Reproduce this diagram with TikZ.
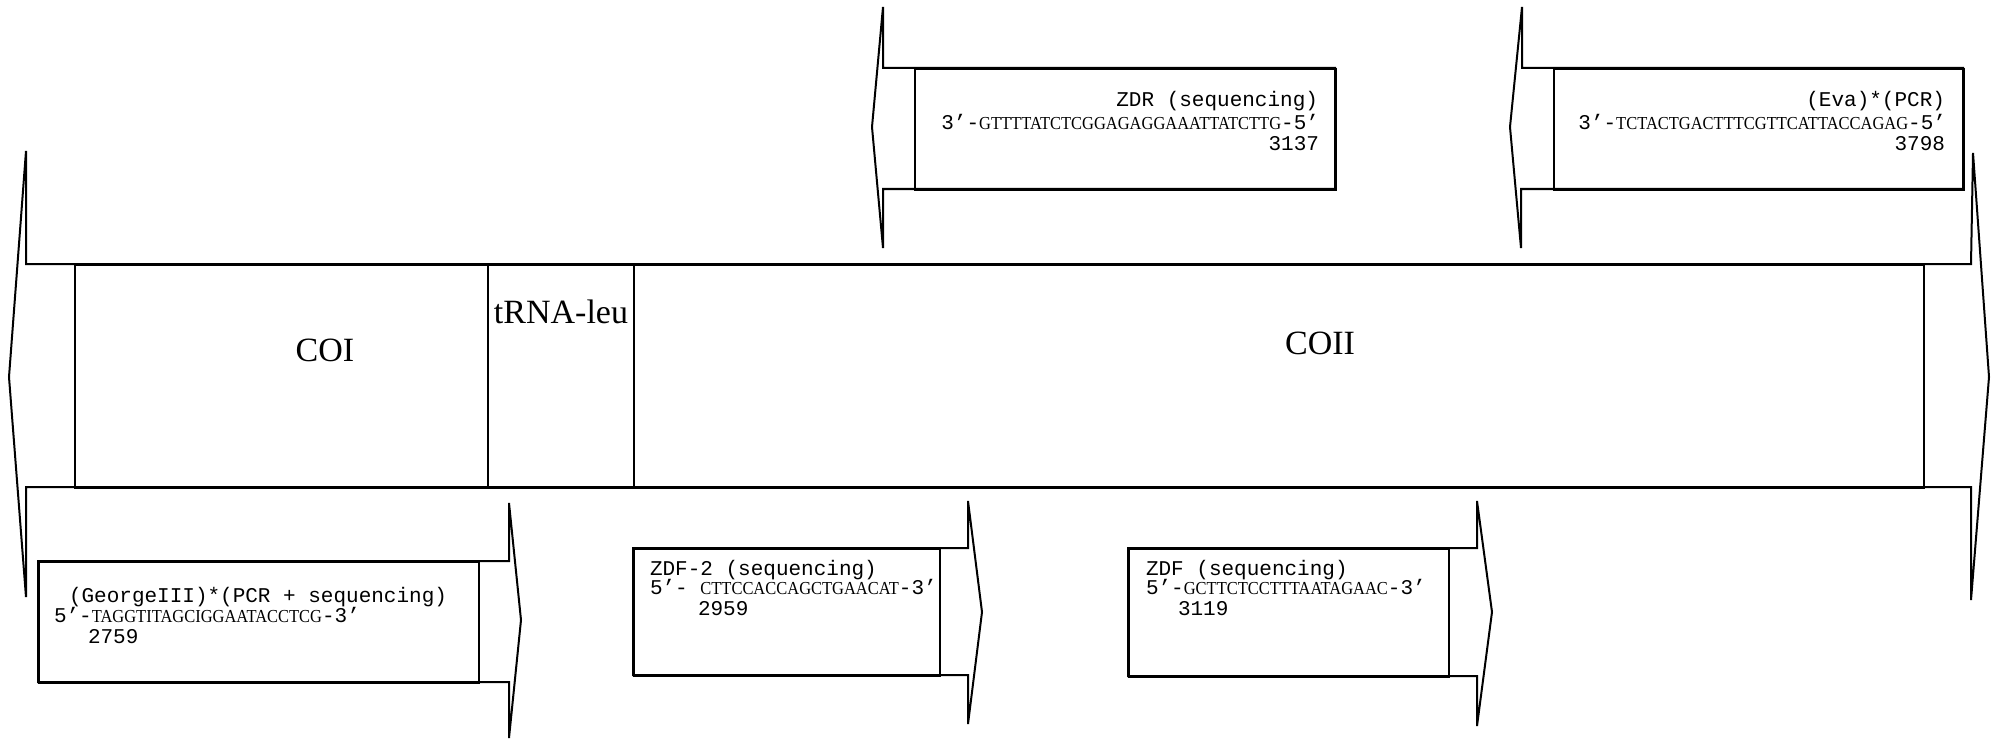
\documentclass[tikz,border=0pt]{standalone}
\usepackage{fontspec}
\setmainfont{Liberation Serif}
\setmonofont{Liberation Mono}
\newfontfamily\seqfont[FakeStretch=0.9]{Liberation Serif}
\newcommand\sq[1]{{\seqfont\fontsize{18.3}{20}\selectfont #1}}
\begin{document}
\begin{tikzpicture}[x=1pt,y=-1pt,line width=2pt,line join=miter,
  lbl/.style={font=\ttfamily\fontsize{21}{23}\selectfont,inner sep=0pt},
  gene/.style={font=\fontsize{34}{38}\selectfont,inner sep=0pt},
  seg/.style={draw,rectangle,inner sep=0pt,anchor=north west},
  outline/.style={draw}]
\useasboundingbox (0,0) rectangle (1998,741);
% main double arrow
\draw[outline] (26,264) -- (26,151) -- (9,377) -- (26,597) -- (26,487) -- (1971,487)
  -- (1971,600) -- (1989,377) -- (1973,153) -- (1971,264) -- cycle;
% gene segments
\node[seg,minimum width=413pt,minimum height=223pt] (coi) at (74,264) {};
\node[seg,minimum width=146pt,minimum height=223pt] (trna) at (487,264) {};
\node[seg,minimum width=1290pt,minimum height=223pt] (coii) at (633,264) {};
\node[gene] (coilbl) at (325,350) {COI};
\node[gene,anchor=base] (trnalbl) at (561,323) {tRNA-leu};
\node[gene] (coiilbl) at (1320,343) {COII};
% ZDR primer (reverse)
\draw[outline] (883,68) -- (883,7) -- (872,127) -- (883,248) -- (883,189) -- (1335,189) -- (1335,68) -- cycle;
\node[seg,minimum width=421pt,minimum height=121pt] (zdrbox) at (914,68) {};
\node[lbl,anchor=base east] (zdr1) at (1319,107) {ZDR (sequencing)};
\node[lbl,anchor=base east] (zdr2) at (1320,130) {3’-\sq{GTTTTATCTCGGAGAGGAAATTATCTTG}-5’};
\node[lbl,anchor=base east] (zdr3) at (1320,151) {3137};
% Eva primer (reverse)
\draw[outline] (1522,68) -- (1522,7) -- (1510,127) -- (1521,248) -- (1521,189) -- (1963,189) -- (1963,68) -- cycle;
\node[seg,minimum width=410pt,minimum height=121pt] (evabox) at (1553,68) {};
\node[lbl,anchor=base east] (eva1) at (1946,107) {(Eva)*(PCR)};
\node[lbl,anchor=base east] (eva2) at (1947,130) {3’-\sq{TCTACTGACTTTCGTTCATTACCAGAG}-5’};
\node[lbl,anchor=base east] (eva3) at (1946,151) {3798};
% GeorgeIII primer (forward)
\draw[outline] (38,561) -- (509,561) -- (509,503) -- (521,620) -- (509,738) -- (509,682) -- (38,682) -- cycle;
\node[seg,minimum width=440pt,minimum height=121pt] (geobox) at (38,561) {};
\node[lbl,anchor=base west] (geo1) at (68,602) {(GeorgeIII)*(PCR + sequencing)};
\node[lbl,anchor=base west] (geo2) at (53,622) {5’-\sq{TAGGTITAGCIGGAATACCTCG}-3’};
\node[lbl,anchor=base west] (geo3) at (87,643) {2759};
% ZDF-2 primer (forward)
\draw[outline] (633,548) -- (968,548) -- (968,501) -- (982,612) -- (968,724) -- (968,675) -- (633,675) -- cycle;
\node[seg,minimum width=306pt,minimum height=127pt] (zdf2box) at (633,548) {};
\node[lbl,anchor=base west] (zdfb1) at (649,575) {ZDF-2 (sequencing)};
\node[lbl,anchor=base west] (zdfb2) at (649,594) {5’- \sq{CTTCCACCAGCTGAACAT}-3’};
\node[lbl,anchor=base west] (zdfb3) at (697,615) {2959};
% ZDF primer (forward)
\draw[outline] (1128,548) -- (1477,548) -- (1477,501) -- (1492,612) -- (1477,726) -- (1477,676) -- (1128,676) -- cycle;
\node[seg,minimum width=320pt,minimum height=128pt] (zdfbox) at (1128,548) {};
\node[lbl,anchor=base west] (zdf1) at (1145,575) {ZDF (sequencing)};
\node[lbl,anchor=base west] (zdf2) at (1145,594) {5’-\sq{GCTTCTCCTTTAATAGAAC}-3’};
\node[lbl,anchor=base west] (zdf3) at (1177,615) {3119};
\end{tikzpicture}
\end{document}
